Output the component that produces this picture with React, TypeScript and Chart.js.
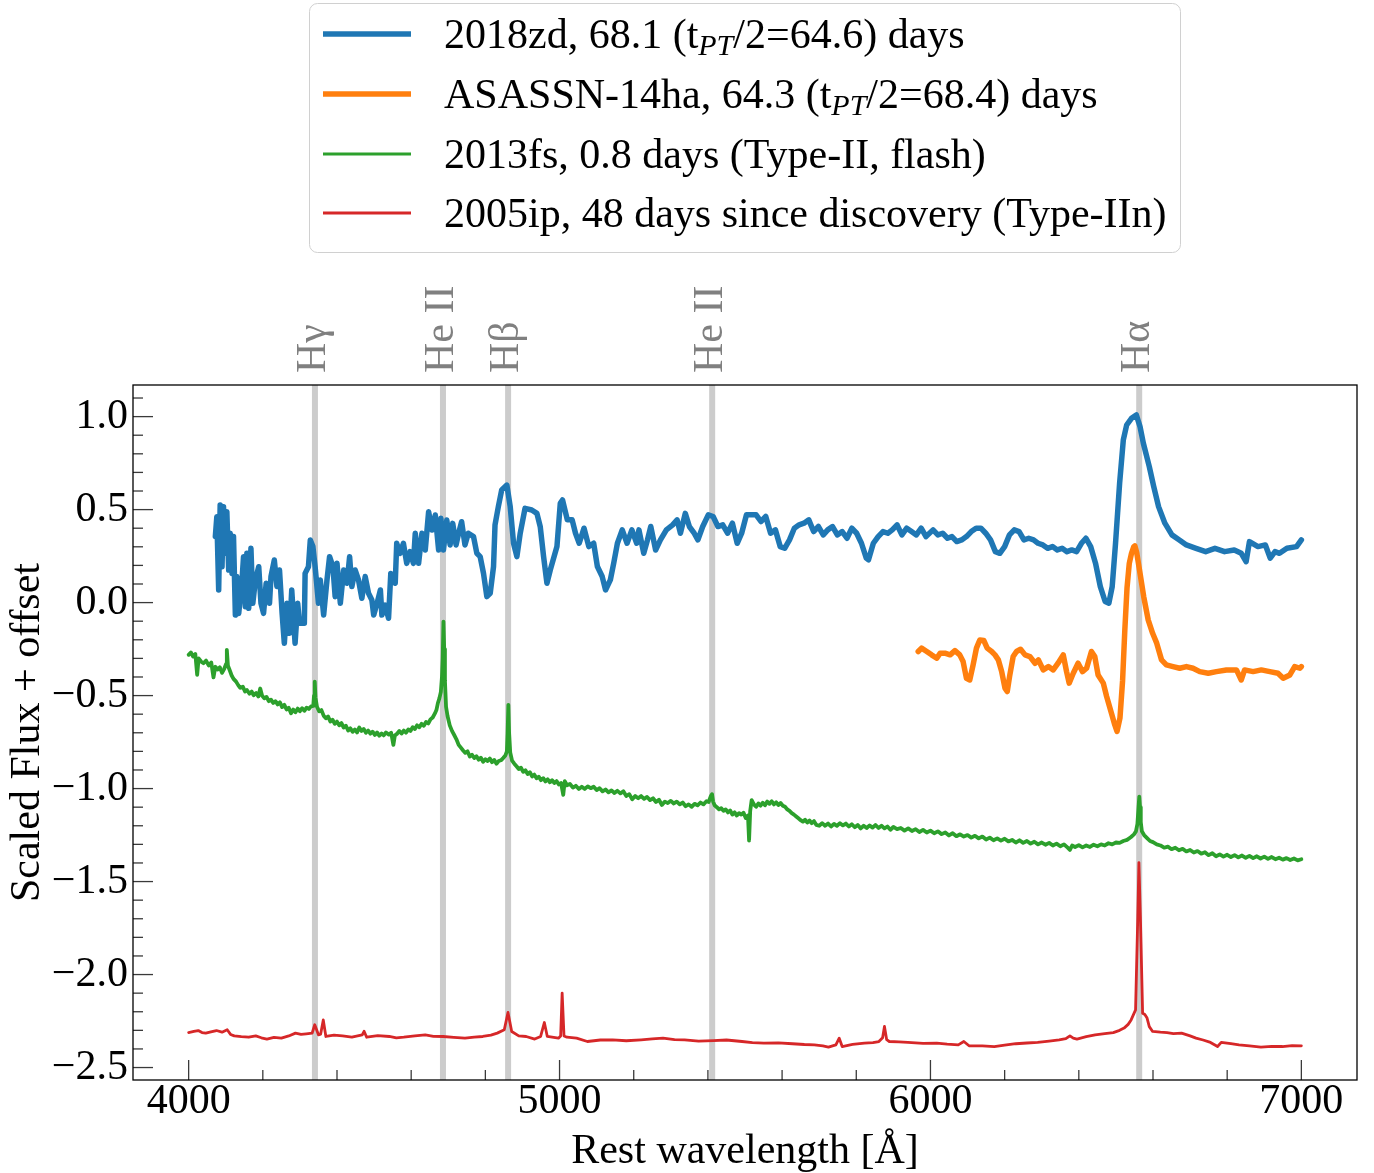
import React, { useEffect, useRef } from "react";
import { Chart, registerables } from "chart.js";

Chart.register(...registerables);

const FONT = '"Liberation Serif", "Times New Roman", serif';
const FS = 42;

// ---------- data (wavelength [Å], scaled flux + offset) ----------
const sn2018zd: [number, number][] = [
  [4072, 0.355], [4076, 0.462], [4081, 0.068], [4085, 0.525], [4090, 0.193], [4094, 0.516],
  [4099, 0.265], [4103, 0.489], [4108, 0.175], [4112, 0.373], [4117, 0.157], [4121, 0.355],
  [4126, -0.067], [4130, 0.14], [4135, -0.058], [4144, 0.122], [4148, 0.247], [4153, -0.022],
  [4157, 0.265], [4162, -0.031], [4168, 0.292], [4173, -0.004], [4180, 0.122], [4189, 0.193],
  [4195, -0.004], [4202, -0.058], [4209, 0.104], [4218, -0.004], [4222, 0.14], [4231, 0.229],
  [4238, 0.086], [4245, 0.175], [4252, -0.058], [4258, -0.219], [4265, -0.004], [4272, -0.165],
  [4278, 0.068], [4287, -0.219], [4294, -0.004], [4299, -0.111], [4312, -0.111], [4314, 0.157],
  [4323, 0.193], [4328, 0.337], [4335, 0.301], [4341, 0.193], [4350, -0.004], [4355, 0.122],
  [4364, -0.067], [4373, 0.122], [4380, 0.247], [4389, 0.193], [4395, 0.032], [4400, 0.211],
  [4409, -0.004], [4418, 0.175], [4427, 0.104], [4434, 0.247], [4440, 0.086], [4449, 0.175],
  [4458, 0.122], [4467, 0.023], [4476, 0.14], [4485, 0.05], [4494, 0.014], [4499, -0.067],
  [4508, -0.004], [4517, 0.068], [4521, -0.067], [4530, -0.013], [4539, -0.084], [4545, 0.157],
  [4557, 0.104], [4561, 0.319], [4570, 0.265], [4579, 0.319], [4588, 0.211], [4597, 0.274],
  [4606, 0.211], [4611, 0.373], [4620, 0.211], [4629, 0.373], [4638, 0.283], [4647, 0.489],
  [4656, 0.39], [4665, 0.471], [4674, 0.283], [4680, 0.453], [4687, 0.283], [4696, 0.444],
  [4705, 0.31], [4712, 0.426], [4721, 0.31], [4728, 0.373], [4736, 0.435], [4745, 0.31],
  [4754, 0.373], [4768, 0.355], [4777, 0.265], [4786, 0.247], [4795, 0.157], [4804, 0.032],
  [4813, 0.05], [4822, 0.193], [4826, 0.417], [4835, 0.516], [4844, 0.605], [4858, 0.632],
  [4867, 0.516], [4876, 0.319], [4885, 0.247], [4894, 0.373], [4907, 0.507], [4925, 0.498],
  [4939, 0.48], [4948, 0.408], [4957, 0.247], [4966, 0.104], [4975, 0.175], [4993, 0.301],
  [5002, 0.534], [5008, 0.552], [5021, 0.445], [5034, 0.445], [5043, 0.373], [5053, 0.319],
  [5066, 0.4], [5079, 0.301], [5092, 0.319], [5102, 0.194], [5115, 0.14], [5124, 0.068],
  [5137, 0.122], [5146, 0.212], [5156, 0.319], [5169, 0.391], [5182, 0.319], [5195, 0.391],
  [5208, 0.319], [5214, 0.391], [5227, 0.265], [5237, 0.337], [5246, 0.409], [5259, 0.283],
  [5272, 0.337], [5288, 0.391], [5305, 0.418], [5317, 0.445], [5326, 0.373], [5339, 0.48],
  [5350, 0.409], [5363, 0.373], [5373, 0.337], [5386, 0.409], [5401, 0.472], [5414, 0.463],
  [5427, 0.409], [5440, 0.418], [5453, 0.373], [5466, 0.427], [5479, 0.319], [5491, 0.373],
  [5504, 0.472], [5517, 0.472], [5530, 0.472], [5543, 0.436], [5556, 0.463], [5569, 0.373],
  [5582, 0.391], [5595, 0.301], [5607, 0.292], [5620, 0.337], [5633, 0.4], [5646, 0.418],
  [5659, 0.427], [5672, 0.445], [5685, 0.382], [5698, 0.409], [5711, 0.364], [5723, 0.391],
  [5736, 0.409], [5749, 0.364], [5762, 0.382], [5775, 0.346], [5788, 0.4], [5801, 0.373],
  [5814, 0.319], [5827, 0.239], [5833, 0.23], [5846, 0.319], [5859, 0.355], [5872, 0.382],
  [5885, 0.373], [5897, 0.391], [5910, 0.418], [5923, 0.364], [5936, 0.4], [5949, 0.382],
  [5962, 0.364], [5975, 0.4], [5988, 0.355], [6007, 0.391], [6020, 0.364], [6033, 0.373],
  [6046, 0.346], [6058, 0.355], [6071, 0.328], [6084, 0.337], [6097, 0.355], [6110, 0.382],
  [6123, 0.4], [6136, 0.4], [6149, 0.373], [6162, 0.337], [6175, 0.274], [6187, 0.265],
  [6200, 0.301], [6213, 0.364], [6226, 0.391], [6239, 0.382], [6252, 0.337], [6265, 0.346],
  [6278, 0.337], [6290, 0.319], [6303, 0.31], [6316, 0.292], [6329, 0.301], [6342, 0.283],
  [6355, 0.292], [6368, 0.274], [6381, 0.283], [6394, 0.274], [6407, 0.319], [6419, 0.346],
  [6432, 0.301], [6445, 0.212], [6458, 0.086], [6471, 0.006], [6481, -0.003], [6490, 0.086],
  [6499, 0.319], [6510, 0.642], [6520, 0.875], [6529, 0.955], [6542, 0.991], [6555, 1.009],
  [6565, 0.946], [6574, 0.857], [6590, 0.731], [6602, 0.624], [6615, 0.516], [6632, 0.427],
  [6651, 0.364], [6671, 0.337], [6690, 0.31], [6716, 0.292], [6742, 0.274], [6767, 0.292],
  [6793, 0.274], [6819, 0.283], [6838, 0.265], [6851, 0.22], [6860, 0.328], [6883, 0.301],
  [6903, 0.31], [6916, 0.239], [6929, 0.274], [6941, 0.265], [6961, 0.292], [6987, 0.301],
  [7000, 0.337],
];

const asassn14ha: [number, number][] = [
  [5967, -0.263], [5976, -0.245], [5990, -0.263], [6003, -0.281], [6017, -0.299], [6026, -0.272],
  [6039, -0.272], [6053, -0.281], [6066, -0.258], [6079, -0.281], [6088, -0.317], [6097, -0.407],
  [6106, -0.416], [6115, -0.335], [6124, -0.245], [6133, -0.201], [6144, -0.204], [6153, -0.245],
  [6165, -0.263], [6174, -0.281], [6183, -0.308], [6192, -0.371], [6201, -0.46], [6207, -0.478],
  [6214, -0.389], [6223, -0.29], [6232, -0.263], [6243, -0.251], [6255, -0.281], [6268, -0.29],
  [6282, -0.326], [6291, -0.308], [6304, -0.362], [6318, -0.344], [6331, -0.362], [6344, -0.326],
  [6358, -0.281], [6367, -0.371], [6374, -0.433], [6385, -0.38], [6398, -0.326], [6410, -0.371],
  [6421, -0.353], [6434, -0.263], [6443, -0.29], [6452, -0.389], [6466, -0.433], [6475, -0.505],
  [6488, -0.595], [6497, -0.658], [6503, -0.693], [6511, -0.62], [6518, -0.42], [6524, -0.15],
  [6530, 0.08], [6536, 0.21], [6542, 0.265], [6548, 0.3], [6551, 0.305], [6556, 0.27],
  [6560, 0.22], [6565, 0.158], [6575, 0.032], [6587, -0.093], [6599, -0.165], [6610, -0.218],
  [6623, -0.308], [6636, -0.335], [6654, -0.344], [6672, -0.353], [6690, -0.344], [6708, -0.353],
  [6726, -0.371], [6749, -0.38], [6771, -0.371], [6798, -0.362], [6825, -0.362], [6838, -0.416],
  [6847, -0.362], [6870, -0.371], [6892, -0.362], [6915, -0.371], [6937, -0.38], [6951, -0.407],
  [6969, -0.389], [6982, -0.344], [6996, -0.353], [7000, -0.344],
];

const sn2013fs: [number, number][] = [
  [4000, -0.281], [4006, -0.268], [4012, -0.29], [4018, -0.276], [4023, -0.389], [4027, -0.3],
  [4034, -0.318], [4040, -0.326], [4047, -0.312], [4054, -0.338], [4061, -0.322], [4067, -0.402],
  [4072, -0.345], [4078, -0.36], [4084, -0.348], [4090, -0.378], [4096, -0.356], [4101, -0.33],
  [4103, -0.254], [4106, -0.34], [4110, -0.36], [4116, -0.392], [4121, -0.41], [4128, -0.425],
  [4134, -0.445], [4139, -0.458], [4146, -0.452], [4152, -0.478], [4157, -0.47], [4164, -0.49],
  [4170, -0.478], [4175, -0.498], [4182, -0.486], [4188, -0.505], [4193, -0.462], [4198, -0.5],
  [4204, -0.515], [4210, -0.507], [4216, -0.53], [4222, -0.522], [4228, -0.54], [4234, -0.53],
  [4240, -0.548], [4246, -0.536], [4252, -0.562], [4258, -0.55], [4264, -0.575], [4270, -0.566],
  [4276, -0.595], [4282, -0.575], [4288, -0.59], [4294, -0.57], [4300, -0.584], [4306, -0.568],
  [4312, -0.582], [4318, -0.565], [4324, -0.572], [4330, -0.558], [4336, -0.556], [4338, -0.5],
  [4340, -0.425], [4342, -0.51], [4346, -0.56], [4352, -0.585], [4358, -0.578], [4364, -0.608],
  [4370, -0.622], [4376, -0.612], [4382, -0.64], [4388, -0.63], [4394, -0.652], [4400, -0.64],
  [4406, -0.66], [4412, -0.648], [4418, -0.672], [4424, -0.662], [4430, -0.688], [4436, -0.676],
  [4442, -0.695], [4448, -0.682], [4454, -0.698], [4460, -0.672], [4466, -0.69], [4472, -0.68],
  [4478, -0.7], [4484, -0.688], [4490, -0.705], [4496, -0.694], [4502, -0.712], [4508, -0.698],
  [4514, -0.716], [4520, -0.704], [4526, -0.714], [4532, -0.698], [4540, -0.71], [4546, -0.7],
  [4552, -0.765], [4556, -0.715], [4562, -0.705], [4568, -0.69], [4574, -0.704], [4580, -0.688],
  [4586, -0.7], [4592, -0.682], [4598, -0.69], [4604, -0.67], [4610, -0.68], [4616, -0.66],
  [4622, -0.67], [4628, -0.652], [4634, -0.662], [4640, -0.642], [4646, -0.65], [4652, -0.628],
  [4658, -0.618], [4664, -0.596], [4668, -0.578], [4672, -0.54], [4676, -0.515], [4680, -0.48],
  [4683, -0.4], [4685, -0.3], [4687, -0.102], [4689, -0.25], [4691, -0.42], [4694, -0.56],
  [4698, -0.61], [4704, -0.66], [4710, -0.69], [4716, -0.712], [4722, -0.735], [4728, -0.765],
  [4734, -0.78], [4740, -0.795], [4746, -0.808], [4752, -0.8], [4758, -0.828], [4764, -0.818],
  [4770, -0.836], [4776, -0.826], [4782, -0.845], [4788, -0.834], [4794, -0.856], [4800, -0.842],
  [4806, -0.852], [4812, -0.838], [4818, -0.858], [4824, -0.846], [4830, -0.866], [4836, -0.852],
  [4842, -0.848], [4848, -0.836], [4854, -0.822], [4858, -0.8], [4860, -0.7], [4862, -0.55],
  [4864, -0.7], [4867, -0.805], [4872, -0.85], [4878, -0.866], [4884, -0.88], [4890, -0.895],
  [4896, -0.888], [4902, -0.91], [4908, -0.902], [4914, -0.922], [4920, -0.912], [4926, -0.935],
  [4932, -0.925], [4938, -0.945], [4944, -0.936], [4950, -0.955], [4956, -0.944], [4962, -0.962],
  [4968, -0.95], [4974, -0.966], [4980, -0.955], [4986, -0.97], [4992, -0.96], [4998, -0.978],
  [5004, -0.97], [5010, -1.034], [5014, -0.96], [5020, -0.982], [5028, -0.975], [5036, -0.995],
  [5044, -0.985], [5052, -1.002], [5060, -0.99], [5068, -1.002], [5076, -0.988], [5084, -0.998],
  [5092, -0.99], [5100, -1.008], [5108, -0.998], [5116, -1.015], [5124, -1.005], [5132, -1.02],
  [5140, -1.01], [5148, -1.024], [5156, -1.012], [5164, -1.026], [5172, -1.014], [5180, -1.04],
  [5188, -1.03], [5196, -1.058], [5204, -1.04], [5212, -1.052], [5220, -1.04], [5228, -1.055],
  [5236, -1.045], [5244, -1.062], [5252, -1.052], [5260, -1.072], [5268, -1.06], [5276, -1.088],
  [5284, -1.07], [5292, -1.078], [5300, -1.066], [5308, -1.08], [5316, -1.07], [5324, -1.085],
  [5332, -1.075], [5340, -1.095], [5348, -1.085], [5356, -1.098], [5364, -1.082], [5372, -1.09],
  [5380, -1.075], [5388, -1.085], [5396, -1.068], [5402, -1.072], [5408, -1.04], [5411, -1.03],
  [5414, -1.07], [5418, -1.09], [5424, -1.1], [5430, -1.112], [5436, -1.105], [5442, -1.12],
  [5448, -1.112], [5454, -1.128], [5460, -1.118], [5466, -1.14], [5472, -1.128], [5478, -1.145],
  [5484, -1.132], [5490, -1.14], [5496, -1.13], [5502, -1.158], [5508, -1.145], [5511, -1.28],
  [5514, -1.12], [5518, -1.062], [5524, -1.085], [5530, -1.098], [5536, -1.08], [5542, -1.092],
  [5548, -1.076], [5554, -1.09], [5560, -1.07], [5566, -1.082], [5572, -1.068], [5578, -1.085],
  [5584, -1.074], [5590, -1.088], [5596, -1.078], [5602, -1.092], [5608, -1.098], [5614, -1.112],
  [5620, -1.12], [5626, -1.132], [5632, -1.14], [5638, -1.15], [5644, -1.16], [5650, -1.17],
  [5656, -1.178], [5662, -1.168], [5668, -1.182], [5674, -1.172], [5680, -1.186], [5686, -1.175],
  [5692, -1.195], [5700, -1.2], [5708, -1.186], [5716, -1.2], [5724, -1.188], [5732, -1.204],
  [5740, -1.19], [5748, -1.2], [5756, -1.186], [5764, -1.198], [5772, -1.188], [5780, -1.204],
  [5788, -1.192], [5796, -1.208], [5804, -1.196], [5812, -1.214], [5820, -1.2], [5828, -1.212],
  [5836, -1.198], [5844, -1.21], [5852, -1.196], [5860, -1.212], [5868, -1.2], [5876, -1.214],
  [5884, -1.204], [5892, -1.222], [5900, -1.206], [5910, -1.218], [5920, -1.212], [5930, -1.226],
  [5940, -1.214], [5950, -1.228], [5960, -1.218], [5970, -1.234], [5980, -1.222], [5990, -1.236],
  [6000, -1.226], [6010, -1.24], [6020, -1.23], [6030, -1.245], [6040, -1.236], [6050, -1.252],
  [6060, -1.24], [6070, -1.256], [6080, -1.246], [6090, -1.258], [6100, -1.25], [6110, -1.264],
  [6120, -1.254], [6130, -1.268], [6140, -1.258], [6150, -1.274], [6160, -1.264], [6170, -1.278],
  [6180, -1.268], [6190, -1.28], [6200, -1.27], [6210, -1.284], [6220, -1.276], [6230, -1.29],
  [6240, -1.278], [6250, -1.292], [6260, -1.282], [6270, -1.296], [6280, -1.286], [6290, -1.3],
  [6300, -1.29], [6310, -1.302], [6320, -1.292], [6330, -1.306], [6340, -1.296], [6350, -1.31],
  [6360, -1.3], [6370, -1.318], [6376, -1.33], [6382, -1.306], [6390, -1.314], [6400, -1.304],
  [6410, -1.316], [6420, -1.306], [6430, -1.314], [6440, -1.302], [6450, -1.31], [6460, -1.3],
  [6470, -1.306], [6480, -1.294], [6490, -1.3], [6500, -1.29], [6510, -1.292], [6520, -1.282],
  [6530, -1.276], [6540, -1.262], [6548, -1.248], [6554, -1.23], [6558, -1.19], [6561, -1.1],
  [6563, -1.043], [6565, -1.1], [6567, -1.18], [6570, -1.23], [6576, -1.25], [6584, -1.266],
  [6592, -1.282], [6600, -1.288], [6610, -1.3], [6620, -1.306], [6630, -1.318], [6640, -1.312],
  [6650, -1.326], [6660, -1.318], [6670, -1.332], [6680, -1.324], [6690, -1.338], [6700, -1.33],
  [6710, -1.344], [6720, -1.336], [6730, -1.35], [6740, -1.342], [6750, -1.358], [6760, -1.348],
  [6770, -1.364], [6780, -1.354], [6790, -1.366], [6800, -1.356], [6810, -1.368], [6820, -1.358],
  [6830, -1.37], [6840, -1.36], [6850, -1.372], [6860, -1.362], [6870, -1.374], [6880, -1.364],
  [6890, -1.376], [6900, -1.366], [6910, -1.378], [6920, -1.368], [6930, -1.38], [6940, -1.372],
  [6950, -1.382], [6960, -1.374], [6970, -1.384], [6980, -1.376], [6990, -1.386], [7000, -1.38],
];

const sn2005ip: [number, number][] = [
  [4000, -2.312], [4014, -2.306], [4026, -2.301], [4036, -2.312], [4046, -2.315], [4060, -2.308],
  [4075, -2.301], [4090, -2.31], [4104, -2.297], [4113, -2.322], [4123, -2.33], [4142, -2.334],
  [4162, -2.337], [4181, -2.33], [4196, -2.34], [4211, -2.347], [4230, -2.338], [4250, -2.342],
  [4270, -2.33], [4288, -2.315], [4303, -2.322], [4317, -2.319], [4333, -2.315], [4340, -2.27],
  [4350, -2.324], [4356, -2.32], [4363, -2.244], [4370, -2.333], [4392, -2.326], [4415, -2.33],
  [4440, -2.336], [4468, -2.325], [4473, -2.305], [4480, -2.337], [4510, -2.328], [4541, -2.333],
  [4560, -2.34], [4580, -2.337], [4610, -2.33], [4638, -2.324], [4660, -2.332], [4686, -2.333],
  [4715, -2.338], [4745, -2.342], [4770, -2.336], [4793, -2.333], [4815, -2.326], [4832, -2.315],
  [4851, -2.297], [4861, -2.204], [4871, -2.306], [4890, -2.33], [4910, -2.333], [4933, -2.347],
  [4949, -2.333], [4959, -2.258], [4967, -2.333], [4997, -2.342], [5003, -2.33], [5007, -2.1],
  [5012, -2.33], [5020, -2.337], [5046, -2.342], [5075, -2.36], [5110, -2.352], [5143, -2.351],
  [5180, -2.356], [5220, -2.351], [5250, -2.346], [5279, -2.342], [5310, -2.35], [5337, -2.351],
  [5375, -2.358], [5415, -2.355], [5450, -2.352], [5492, -2.36], [5520, -2.366], [5551, -2.369],
  [5590, -2.367], [5628, -2.372], [5660, -2.376], [5687, -2.378], [5710, -2.384], [5725, -2.39],
  [5745, -2.378], [5754, -2.342], [5762, -2.387], [5790, -2.376], [5822, -2.369], [5845, -2.366],
  [5861, -2.36], [5871, -2.34], [5876, -2.279], [5882, -2.35], [5889, -2.36], [5915, -2.362],
  [5939, -2.365], [5980, -2.37], [6017, -2.369], [6045, -2.374], [6075, -2.378], [6090, -2.36],
  [6104, -2.383], [6140, -2.384], [6172, -2.387], [6200, -2.38], [6230, -2.372], [6260, -2.368],
  [6289, -2.365], [6320, -2.358], [6347, -2.351], [6365, -2.345], [6376, -2.33], [6385, -2.342],
  [6395, -2.347], [6420, -2.334], [6444, -2.324], [6470, -2.318], [6493, -2.312], [6510, -2.3],
  [6522, -2.288], [6533, -2.268], [6541, -2.244], [6553, -2.19], [6559, -1.688], [6562, -1.398],
  [6566, -1.688], [6572, -2.208], [6578, -2.215], [6584, -2.234], [6590, -2.28], [6599, -2.306],
  [6620, -2.31], [6638, -2.312], [6655, -2.318], [6677, -2.315], [6700, -2.33], [6716, -2.342],
  [6735, -2.352], [6755, -2.365], [6774, -2.387], [6784, -2.365], [6810, -2.372], [6832, -2.378],
  [6860, -2.384], [6891, -2.39], [6920, -2.386], [6949, -2.387], [6975, -2.382], [7000, -2.383],
];

const seriesLabels = [
  "2018zd, 68.1 (tPT/2=64.6) days",
  "ASASSN-14ha, 64.3 (tPT/2=68.4) days",
  "2013fs, 0.8 days (Type-II, flash)",
  "2005ip, 48 days since discovery (Type-IIn)",
];
// legend text split in [normal, subscript, normal, ...] pieces
const legendPieces: string[][] = [
  ["2018zd, 68.1 (t", "PT", "/2=64.6) days"],
  ["ASASSN-14ha, 64.3 (t", "PT", "/2=68.4) days"],
  ["2013fs, 0.8 days (Type-II, flash)"],
  ["2005ip, 48 days since discovery (Type-IIn)"],
];
const seriesColors = ["#1f77b4", "#ff7f0e", "#2ca02c", "#d62728"];
const seriesWidths = [5.5, 5.5, 3.8, 2.8];
const legendWidths = [5.5, 5.5, 3.2, 3.2];

const lineWavelengths = [4340.5, 4685.7, 4861.3, 5411.5, 6562.8];
const lineNames = ["Hγ", "He II", "Hβ", "He II", "Hα"];

const xTicks = [4000, 5000, 6000, 7000];
const yTicks = [-2.5, -2.0, -1.5, -1.0, -0.5, 0.0, 0.5, 1.0];

const fmtY = (v: number) => (v < 0 ? "\u2212" : "") + Math.abs(v).toFixed(1);

const decorPlugin = {
  id: "decor",
  beforeDatasetsDraw(chart: any) {
    const { ctx, chartArea: ca, scales } = chart;
    const x = scales.x;
    ctx.save();
    ctx.strokeStyle = "#cccccc";
    ctx.lineWidth = 6;
    for (const wl of lineWavelengths) {
      const px = x.getPixelForValue(wl);
      ctx.beginPath();
      ctx.moveTo(px, ca.top);
      ctx.lineTo(px, ca.bottom);
      ctx.stroke();
    }
    ctx.restore();
  },
  afterDatasetsDraw(chart: any) {
    const { ctx, chartArea: ca, scales } = chart;
    const x = scales.x;
    const y = scales.y;
    ctx.save();
    ctx.strokeStyle = "#3a3a3a";
    ctx.lineWidth = 1.3;
    const majorLen = 20;
    const minorLen = 10;
    for (let i = -30; i <= 15; i++) {
      const v = i / 10;
      if (v < y.min || v > y.max) continue;
      const py = y.getPixelForValue(v);
      const isMajor = i % 5 === 0;
      ctx.beginPath();
      ctx.moveTo(ca.left, py);
      ctx.lineTo(ca.left + (isMajor ? majorLen : minorLen), py);
      ctx.stroke();
    }
    for (let w = 3800; w <= 7200; w += 200) {
      if (w < x.min || w > x.max) continue;
      const px = x.getPixelForValue(w);
      const isMajor = w % 1000 === 0;
      ctx.beginPath();
      ctx.moveTo(px, ca.bottom);
      ctx.lineTo(px, ca.bottom - (isMajor ? majorLen : minorLen));
      ctx.stroke();
    }
    ctx.strokeStyle = "#000";
    ctx.lineWidth = 1.3;
    ctx.strokeRect(ca.left, ca.top, ca.right - ca.left, ca.bottom - ca.top);
    ctx.restore();
  },
  afterDraw(chart: any) {
    const { ctx, chartArea: ca, scales } = chart;
    const x = scales.x;
    ctx.save();
    ctx.fillStyle = "#808080";
    ctx.font = `${FS}px ${FONT}`;
    ctx.textAlign = "left";
    ctx.textBaseline = "alphabetic";
    lineWavelengths.forEach((wl, i) => {
      const px = x.getPixelForValue(wl);
      ctx.save();
      ctx.translate(px + 10, ca.top - 12);
      ctx.rotate(-Math.PI / 2);
      ctx.fillText(lineNames[i], 0, 0);
      ctx.restore();
    });

    // legend
    const lx = 309.5, ly = 3.5, lw = 871, lh = 249;
    ctx.beginPath();
    (ctx as any).roundRect(lx, ly, lw, lh, 8);
    ctx.fillStyle = "rgba(255,255,255,0.8)";
    ctx.fill();
    ctx.strokeStyle = "#d0d0d0";
    ctx.lineWidth = 1;
    ctx.stroke();
    const rowY = [34, 94, 154, 213];
    legendPieces.forEach((pieces, i) => {
      const yy = rowY[i];
      ctx.strokeStyle = seriesColors[i];
      ctx.lineWidth = legendWidths[i];
      ctx.lineCap = "butt";
      ctx.beginPath();
      ctx.moveTo(323, yy);
      ctx.lineTo(411, yy);
      ctx.stroke();
      let tx = 444;
      const base = yy + 14;
      ctx.fillStyle = "#000";
      ctx.textAlign = "left";
      ctx.textBaseline = "alphabetic";
      pieces.forEach((p, j) => {
        if (j % 2 === 1) {
          ctx.font = `italic 30px ${FONT}`;
          ctx.fillText(p, tx, base + 7);
        } else {
          ctx.font = `${FS}px ${FONT}`;
          ctx.fillText(p, tx, base);
        }
        tx += ctx.measureText(p).width;
      });
    });
    ctx.restore();
  },
};

export default function App() {
  const ref = useRef<HTMLCanvasElement>(null);
  useEffect(() => {
    document.body.style.margin = "0";
    const canvas = ref.current;
    if (!canvas) return;
    const series = [sn2018zd, asassn14ha, sn2013fs, sn2005ip];
    const chart = new Chart(canvas, {
      type: "line",
      data: {
        datasets: series.map((s, i) => ({
          label: seriesLabels[i],
          data: s.map(([wx, fy]) => ({ x: wx, y: fy })),
          borderColor: seriesColors[i],
          backgroundColor: seriesColors[i],
          borderWidth: seriesWidths[i],
          pointRadius: 0,
          tension: 0,
          fill: false,
          borderJoinStyle: "round" as const,
          borderCapStyle: "round" as const,
        })),
      },
      options: {
        responsive: false,
        animation: false,
        layout: { padding: { top: 385, right: 17, left: 0, bottom: 0 } },
        plugins: { legend: { display: false }, tooltip: { enabled: false } },
        scales: {
          x: {
            type: "linear",
            min: 3850,
            max: 7150,
            afterBuildTicks: (s: any) => {
              s.ticks = xTicks.map((v) => ({ value: v }));
            },
            afterFit: (s: any) => {
              s.height = 93;
            },
            grid: { display: false, drawTicks: false },
            border: { display: false },
            ticks: {
              font: { family: FONT, size: FS, lineHeight: 1 },
              color: "#000",
              padding: 1,
              maxRotation: 0,
              autoSkip: false,
              callback: (v: any) => String(v),
            },
            title: {
              display: true,
              text: "Rest wavelength [Å]",
              font: { family: FONT, size: FS, lineHeight: 1 },
              color: "#000",
              padding: { top: 0, bottom: 0 },
            },
          },
          y: {
            type: "linear",
            min: -2.567,
            max: 1.17,
            afterBuildTicks: (s: any) => {
              s.ticks = yTicks.map((v) => ({ value: v }));
            },
            afterFit: (s: any) => {
              s.width = 133;
            },
            grid: { display: false, drawTicks: false },
            border: { display: false },
            ticks: {
              font: { family: FONT, size: FS, lineHeight: 1 },
              color: "#000",
              padding: 5,
              autoSkip: false,
              callback: (v: any) => fmtY(Number(v)),
            },
            title: {
              display: true,
              text: "Scaled Flux + offset",
              font: { family: FONT, size: FS, lineHeight: 1.2 },
              color: "#000",
              padding: { top: 3, bottom: 0 },
            },
          },
        },
      },
      plugins: [decorPlugin],
    } as any);
    return () => chart.destroy();
  }, []);
  return (
    <canvas
      ref={ref}
      width={1374}
      height={1173}
      style={{ display: "block", width: 1374, height: 1173 }}
    />
  );
}
